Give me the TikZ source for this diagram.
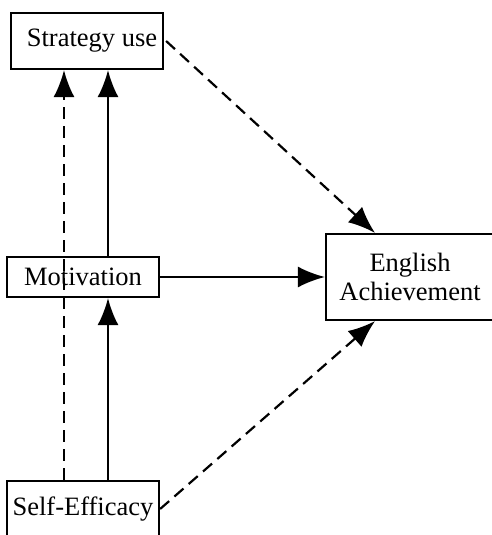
\documentclass[tikz,border=0pt]{standalone}
\usepackage{fontspec}
\setmainfont{Liberation Serif}
\usetikzlibrary{arrows.meta,positioning}
\tikzset{
	box/.style={draw,line width=2.2pt,rectangle,inner sep=2pt,font=\fontsize{26.5}{29}\selectfont, text centered},
	diredge/.style={->,>={Latex[width=21pt,length=27pt]},color=black,line width=2.2pt},
	dashedge/.style={diredge,dash pattern=on 12pt off 7pt}
}
\begin{document}
\begin{tikzpicture}[x=1pt,y=-1pt]
		\useasboundingbox (0,0) rectangle (492,535);
		\clip (0,0) rectangle (492,535);
		%%%boxes
		\node[box,minimum width=152pt,minimum height=56pt] (strat) at (87,41) {\hspace{10pt}Strategy use};
		\node[box,minimum width=152pt,minimum height=40pt] (motiv) at (83,277) {Motivation};
		\node[box,minimum width=152pt,minimum height=56pt] (self) at (83,509) {Self-Efficacy};
		\node[box,minimum width=168pt,minimum height=86pt,align=center] (eng) at (410,277) {English\\Achievement\hspace{14pt}};
		
		%%%paths
		\draw[dashedge] ([xshift=-19pt]self.north) -- ([xshift=-19pt]self.north |- strat.south);
		\draw[diredge] ([xshift=25pt]motiv.north) -- ([xshift=25pt]motiv.north |- strat.south);
		\draw[diredge] ([xshift=25pt]self.north) -- ([xshift=25pt]motiv.south);
		\draw[diredge] (motiv.east) -- (eng.west);
		
		\draw[dashedge] ([xshift=2pt]strat.east) -- ([xshift=-35pt]eng.north);
		\draw[dashedge] (self.east) -- ([xshift=-35pt]eng.south);
	\end{tikzpicture}
\end{document}
